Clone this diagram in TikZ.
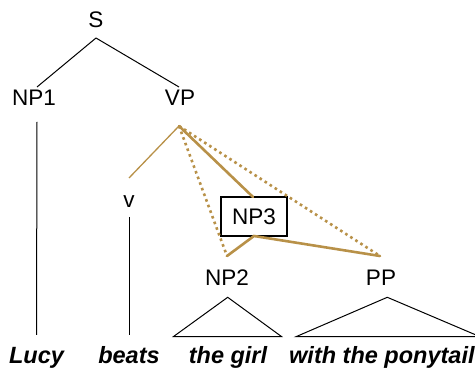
\documentclass[tikz,border=0pt]{standalone}
\usepackage{fontspec}
\setmainfont{Liberation Sans}
\definecolor{gold}{RGB}{184,145,72}
\begin{document}
\begin{tikzpicture}[x=1pt,y=-1pt,
  lab/.style={anchor=base,inner sep=0pt,font=\fontsize{22.5}{26}\selectfont},
  word/.style={anchor=base,inner sep=0pt,font=\fontsize{23.5}{27}\selectfont\bfseries\itshape},
  blk/.style={black,line width=1pt},
  goldthin/.style={gold,line width=1.3pt},
  goldthick/.style={gold,line width=2.6pt,line cap=round},
  golddot/.style={gold,line width=2.6pt,dash pattern=on 2.6pt off 3.4pt}]
\useasboundingbox (0,0) rectangle (475,371);
\clip (0,0) rectangle (475,371);
% labels
\node[lab] (S) at (96,28) {S};
\node[lab] (NP1) at (34,106) {NP1};
\node[lab] (VP) at (180,106) {VP};
\node[lab] (v) at (129,208) {v};
\node[lab] (NP2) at (227,286) {NP2};
\node[lab] (PP) at (381,286) {PP};
\node[draw,line width=1.1pt,minimum width=66pt,minimum height=39pt,inner sep=0pt,font=\fontsize{22.5}{26}\selectfont] (NP3) at (254,216.5) {NP3};
\node[word] (w1) at (36.5,364) {Lucy};
\node[word] (w2) at (129,364) {beats};
\node[word] (w3) at (228,364) {the girl};
\node[word,anchor=base west] (w4) at (289,364) {with the ponytail};
% endpoints
\coordinate (Sb) at (96,38);
\coordinate (NP1t) at (37,87);
\coordinate (VPt) at (179,87);
\coordinate (NP1b) at (37,122);
\coordinate (VPb) at (179,126);
\coordinate (vt) at (129,178);
\coordinate (vb) at (129,217);
\coordinate (NP3t) at (253,197);
\coordinate (NP3b) at (254,236);
\coordinate (NP2t) at (227,256);
\coordinate (PPt) at (380,256);
\coordinate (NP2tri) at (227.7,297.3);
\coordinate (PPtri) at (387.3,297.3);
% black tree
\draw[blk] (Sb) -- (NP1t);
\draw[blk] (Sb) -- (VPt);
\draw[blk] (NP1b) -- (w1.north |- 0,335);
\draw[blk] (vb) -- (w2.north |- 0,335);
\draw[blk] (NP2tri) -- (173.3,336.7) -- (281.7,336.7) -- cycle;
\draw[blk] (PPtri) -- (296,336.7) -- (480,336.7) -- cycle;
% gold
\draw[goldthin] (VPb) -- (vt);
\draw[golddot] (VPb) -- (NP2t);
\draw[golddot] (VPb) -- (PPt);
\draw[goldthick] (VPb) -- (NP3t);
\draw[goldthick] (NP2t) -- (NP3b) -- (PPt);
\end{tikzpicture}
\end{document}
